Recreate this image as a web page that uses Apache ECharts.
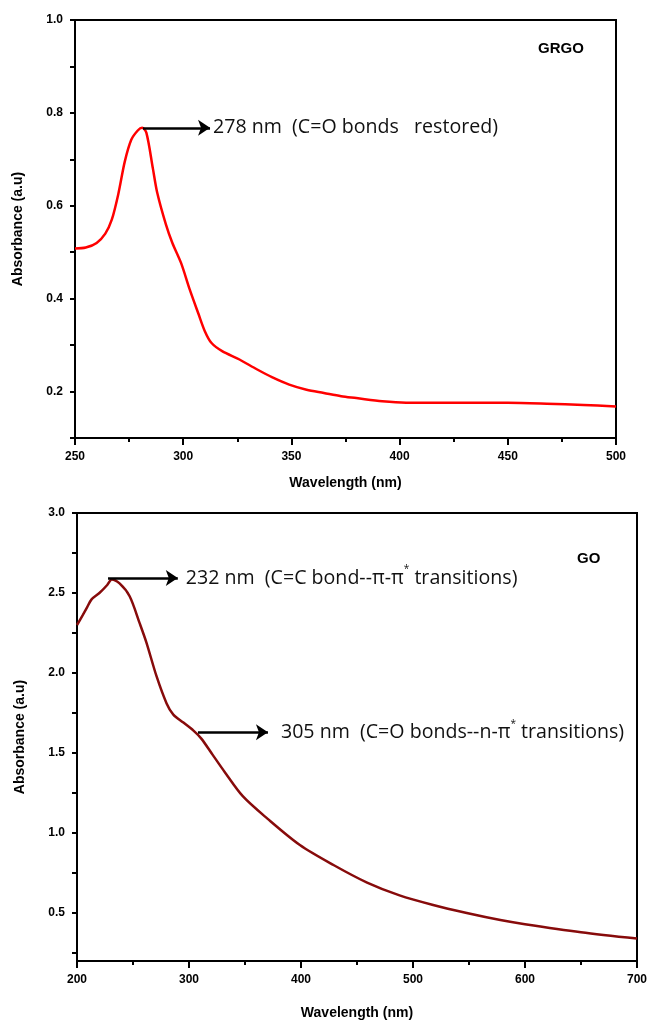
<!DOCTYPE html>
<html>
<head>
<meta charset="utf-8">
<title>UV-Vis GRGO / GO</title>
<script src="https://cdn.jsdelivr.net/npm/echarts@6/dist/echarts.min.js"></script>
<style>
  html, body { margin: 0; padding: 0; background: #fff; }
  #chart { width: 653px; height: 1021px; }
</style>
</head>
<body>
<div id="chart"></div>
<script>
// GRGO spectrum (top panel)
var grgoWavelength = [250, 255, 260, 264, 267, 270, 273, 276, 279, 281, 283, 286, 288, 292, 295, 299, 303, 307, 310, 313, 318, 326, 334, 341, 349, 357, 365, 373, 380, 392, 403, 426, 450, 468, 485, 500]
var grgoAbsorbance = [0.508, 0.510, 0.520, 0.540, 0.570, 0.625, 0.695, 0.742, 0.762, 0.768, 0.757, 0.680, 0.628, 0.560, 0.520, 0.477, 0.420, 0.368, 0.330, 0.305, 0.287, 0.269, 0.248, 0.231, 0.215, 0.204, 0.197, 0.190, 0.186, 0.179, 0.176, 0.176, 0.176, 0.174, 0.171, 0.168]

// GO spectrum (bottom panel)
var goWavelength = [200, 205, 209, 213, 220, 227, 231, 238, 247, 256, 262, 271, 280, 286, 295, 304, 311, 321, 332, 348, 370, 399, 429, 459, 488, 518, 548, 578, 600, 650, 700]
var goAbsorbance = [2.30, 2.36, 2.41, 2.46, 2.50, 2.55, 2.585, 2.56, 2.48, 2.31, 2.19, 1.98, 1.81, 1.74, 1.69, 1.64, 1.59, 1.49, 1.38, 1.23, 1.09, 0.925, 0.80, 0.69, 0.61, 0.55, 0.50, 0.456, 0.43, 0.38, 0.34]

// tick labels / tick positions of the y axes
var grgoYLabels = [0.2, 0.4, 0.6, 0.8, 1.0]
var grgoYTicks = [0.1, 0.2, 0.3, 0.4, 0.5, 0.6, 0.7, 0.8, 0.9, 1.0]
var goYLabels = [0.5, 1.0, 1.5, 2.0, 2.5, 3.0]
var goYTicks = [0.25, 0.5, 0.75, 1.0, 1.25, 1.5, 1.75, 2.0, 2.25, 2.5, 2.75, 3.0]

// arrows: [start wavelength, end wavelength, absorbance]
var grgoPeakArrow = [281.4, 312.4, 0.768]
var goPeakArrow = [227.7, 290, 2.594]
var goShoulderArrow = [308, 370.5, 1.63]

var chart = echarts.init(document.getElementById('chart'))

var tickFont = { color: '#000', fontFamily: 'Liberation Sans', fontWeight: 'bold', fontSize: 12 }
var nameFont = { color: '#000', fontFamily: 'Liberation Sans', fontWeight: 'bold', fontSize: 14 }
var noteFont = 'Open Sans'

function zip(xs, ys) {
  return xs.map(function (x, i) { return [x, ys[i]] })
}

// horizontal arrow drawn as a markLine in data coordinates
function arrow(a, text, gap) {
  return [
    { coord: [a[0], a[2]], symbol: 'none' },
    { coord: [a[1], a[2]], symbol: 'arrow', label: { formatter: text, distance: gap } }
  ]
}

function xAxisOf(idx, min, max, interval, gap) {
  return {
    type: 'value', gridIndex: idx, min: min, max: max, interval: interval,
    name: 'Wavelength (nm)', nameLocation: 'middle', nameGap: gap, nameTextStyle: nameFont,
    axisLine: { lineStyle: { color: '#000', width: 2 } },
    axisTick: { length: 7, lineStyle: { color: '#000', width: 2 } },
    minorTick: { show: true, splitNumber: 2, length: 4, lineStyle: { color: '#000', width: 2 } },
    axisLabel: Object.assign({ margin: 13 }, tickFont),
    splitLine: { show: false }
  }
}

function yAxisOf(idx, min, max, labels, ticks) {
  return {
    type: 'value', gridIndex: idx, min: min, max: max,
    name: 'Absorbance (a.u)', nameLocation: 'middle', nameGap: 50, nameRotate: 90, nameTextStyle: nameFont,
    axisLine: { show: true, lineStyle: { color: '#000', width: 2 } },
    axisTick: { show: true, length: 5, customValues: ticks, lineStyle: { color: '#000', width: 2 } },
    axisLabel: Object.assign({
      margin: 12, customValues: labels,
      formatter: function (v) { return v.toFixed(1) }
    }, tickFont),
    splitLine: { show: false }
  }
}

var noteLabel = {
  show: true, position: 'end', distance: 4, color: '#111', fontFamily: noteFont, fontSize: 19.6,
  rich: {
    sup: { fontFamily: noteFont, fontSize: 10, color: '#111', padding: [0, 0, 17, 0] }
  }
}

chart.setOption({
  backgroundColor: '#fff',
  animation: false,
  title: [
    { text: 'GRGO', left: 533, top: 36, textStyle: { fontFamily: 'Liberation Sans', fontWeight: 'bold', fontSize: 15, color: '#000' } },
    { text: 'GO', left: 572, top: 546, textStyle: { fontFamily: 'Liberation Sans', fontWeight: 'bold', fontSize: 15, color: '#000' } }
  ],
  grid: [
    { left: 75, right: 37, top: 20, height: 418, show: true, borderColor: '#000', borderWidth: 2 },
    { left: 77, right: 16, top: 513, height: 448, show: true, borderColor: '#000', borderWidth: 2 }
  ],
  xAxis: [
    xAxisOf(0, 250, 500, 50, 38),
    xAxisOf(1, 200, 700, 100, 45)
  ],
  yAxis: [
    yAxisOf(0, 0.1, 1.0, grgoYLabels, grgoYTicks),
    yAxisOf(1, 0.2, 3.0, goYLabels, goYTicks)
  ],
  series: [
    {
      name: 'GRGO', type: 'line', xAxisIndex: 0, yAxisIndex: 0,
      data: zip(grgoWavelength, grgoAbsorbance),
      smooth: 0.3, showSymbol: false,
      lineStyle: { color: '#ff0000', width: 2.5 },
      markLine: {
        silent: true, symbolSize: 12,
        lineStyle: { color: '#000', width: 2.5, type: 'solid' },
        label: noteLabel,
        data: [arrow(grgoPeakArrow, '278 nm  (C=O bonds   restored)', 3)]
      }
    },
    {
      name: 'GO', type: 'line', xAxisIndex: 1, yAxisIndex: 1,
      data: zip(goWavelength, goAbsorbance),
      smooth: 0.3, showSymbol: false,
      lineStyle: { color: '#870b0b', width: 2.5 },
      markLine: {
        silent: true, symbolSize: 12,
        lineStyle: { color: '#000', width: 2.5, type: 'solid' },
        label: noteLabel,
        data: [
          arrow(goPeakArrow, '232 nm  (C=C bond--π-π{sup|*} transitions)', 8),
          arrow(goShoulderArrow, '305 nm  (C=O bonds--n-π{sup|*} transitions)', 13)
        ]
      }
    }
  ]
})
</script>
</body>
</html>
